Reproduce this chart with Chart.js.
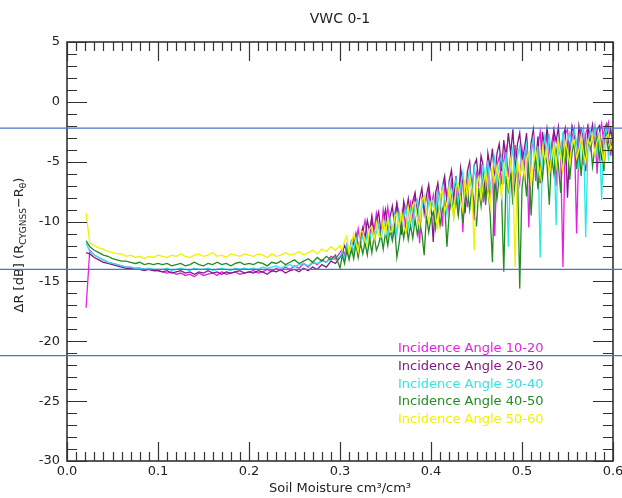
<!DOCTYPE html>
<html>
<head>
<meta charset="utf-8">
<script src="https://cdn.jsdelivr.net/npm/chart.js@4.4.0/dist/chart.umd.min.js"></script>
<style>
  body { margin: 0; background: #fff; }
  canvas { display: block; }
</style>
</head>
<body>
<canvas id="vwcChart" width="622" height="498"></canvas>
<script>
// Soil moisture values (cm3/cm3)
const soilMoisture = [
  0.021, 0.025, 0.03, 0.035, 0.04, 0.045, 0.05, 0.055, 0.06, 0.065, 0.07, 0.075, 0.08, 0.085, 0.09, 0.095, 0.1,
  0.105, 0.11, 0.115, 0.12, 0.125, 0.13, 0.135, 0.14, 0.145, 0.15, 0.155, 0.16, 0.165, 0.17, 0.175, 0.18, 0.185, 0.19, 0.195, 0.2,
  0.205, 0.21, 0.215, 0.22, 0.225, 0.23, 0.235, 0.24, 0.245, 0.25, 0.255, 0.26, 0.265, 0.27, 0.275, 0.28, 0.285, 0.29, 0.295, 0.3,
  0.3025, 0.305, 0.3075, 0.31, 0.3125, 0.315, 0.3175, 0.32, 0.3225, 0.325,
  0.3275, 0.33, 0.3325, 0.335, 0.3375, 0.34, 0.3425, 0.345, 0.3475, 0.35,
  0.3525, 0.355, 0.3575, 0.36, 0.3625, 0.365, 0.3675, 0.37, 0.3725, 0.375,
  0.3775, 0.38, 0.3825, 0.385, 0.3875, 0.39, 0.3925, 0.395, 0.3975, 0.4,
  0.4025, 0.405, 0.4075, 0.41, 0.4125, 0.415, 0.4175, 0.42, 0.4225, 0.425,
  0.4275, 0.43, 0.4325, 0.435, 0.4375, 0.44, 0.4425, 0.445, 0.4475, 0.45,
  0.4525, 0.455, 0.4575, 0.46, 0.4625, 0.465, 0.4675, 0.47, 0.4725, 0.475,
  0.4775, 0.48, 0.4825, 0.485, 0.4875, 0.49, 0.4925, 0.495, 0.4975, 0.5,
  0.5025, 0.505, 0.5075, 0.51, 0.5125, 0.515, 0.5175, 0.52, 0.5225, 0.525,
  0.5275, 0.53, 0.5325, 0.535, 0.5375, 0.54, 0.5425, 0.545, 0.5475, 0.55,
  0.5525, 0.555, 0.5575, 0.56, 0.5625, 0.565, 0.5675, 0.57, 0.5725, 0.575,
  0.5775, 0.58, 0.5825, 0.585, 0.5875, 0.59, 0.5925, 0.595, 0.5975, 0.6
];

// Delta R [dB] per incidence angle bin
const angle10to20 = [
  -17.2, -12.4, -12.8, -13.0, -13.2, -13.4, -13.5, -13.6, -13.7, -13.8, -13.8, -13.9, -13.9, -14.0, -14.0, -14.1, -14.1,
  -14.2, -14.3, -14.2, -14.4, -14.3, -14.5, -14.4, -14.6, -14.3, -14.5, -14.4, -14.3, -14.5, -14.2, -14.4, -14.3, -14.2, -14.4, -14.3, -14.2,
  -14.1, -14.3, -14.2, -14.0, -14.2, -13.9, -14.1, -13.8, -14.0, -13.7, -13.9, -13.5, -13.8, -13.4, -13.6, -13.2, -13.4, -12.9, -13.1, -12.6,
  -12.3, -12.8, -11.9, -12.4, -12.6, -11.3, -11.8, -10.6, -11.9, -10.9,
  -9.9, -11.2, -11.8, -9.6, -10.7, -9.3, -10.4, -11.3, -9.0, -10.2,
  -8.8, -10.3, -11.2, -9.4, -8.5, -10.1, -9.6, -8.7, -11.0, -9.2,
  -8.4, -9.9, -7.8, -9.0, -11.8, -8.1, -8.6, -9.7, -7.4, -8.9,
  -7.8, -9.6, -7.0, -8.4, -10.4, -6.8, -7.9, -9.2, -6.4, -8.3,
  -6.9, -9.5, -6.1, -10.9, -6.6, -8.8, -5.7, -7.4, -9.9, -6.0,
  -7.0, -5.2, -8.4, -6.1, -4.7, -8.1, -5.5, -11.2, -5.3, -4.6,
  -6.9, -4.9, -3.9, -6.3, -4.4, -8.3, -3.6, -5.4, -6.8, -3.9,
  -5.3, -3.2, -10.5, -4.4, -2.8, -6.6, -3.7, -2.5, -5.6, -4.0,
  -2.7, -5.9, -3.5, -2.4, -7.0, -3.1, -4.6, -13.8, -2.7, -2.3,
  -4.5, -2.9, -2.2, -11.0, -3.6, -2.1, -5.3, -2.7, -2.0, -4.0,
  -3.2, -2.1, -6.0, -2.6, -1.8, -3.6, -2.3, -1.7, -4.5, -2.8
];
const angle20to30 = [
  -12.6, -12.7, -13.0, -13.2, -13.4, -13.5, -13.6, -13.7, -13.8, -13.9, -13.9, -14.0, -14.0, -14.1, -14.0, -14.1, -14.1,
  -14.2, -14.1, -14.3, -14.2, -14.1, -14.3, -14.2, -14.4, -14.2, -14.3, -14.1, -14.3, -14.2, -14.4, -14.2, -14.3, -14.2, -14.1, -14.3, -14.2,
  -14.3, -14.1, -14.2, -14.4, -14.1, -14.2, -14.0, -14.3, -14.1, -14.0, -14.2, -13.9, -14.1, -13.8, -14.0, -13.6, -13.8, -13.3, -13.5, -13.0,
  -12.6, -12.0, -12.5, -12.9, -11.6, -11.9, -11.0, -12.1, -11.3, -10.5,
  -11.4, -9.9, -10.8, -9.6, -11.7, -9.9, -9.2, -10.9, -10.0, -9.0,
  -10.7, -9.6, -8.7, -10.4, -8.5, -9.5, -11.1, -8.3, -9.2, -8.1,
  -10.1, -8.3, -7.6, -9.5, -8.1, -7.2, -9.3, -7.8, -6.9, -8.6,
  -11.7, -7.6, -6.8, -9.0, -7.1, -6.2, -8.4, -6.6, -5.7, -7.8,
  -6.2, -8.6, -5.5, -6.8, -9.3, -5.8, -5.0, -7.4, -5.3, -4.8,
  -6.7, -4.5, -5.4, -8.6, -4.3, -5.5, -3.9, -6.6, -4.3, -3.5,
  -5.8, -3.2, -4.9, -2.6, -4.3, -2.3, -5.9, -3.5, -2.6, -4.9,
  -4.0, -2.6, -6.1, -3.4, -2.3, -5.2, -2.9, -6.8, -2.5, -3.9,
  -2.2, -3.6, -5.4, -2.4, -3.3, -2.1, -4.6, -2.9, -2.2, -8.0,
  -3.8, -2.0, -2.8, -5.0, -2.0, -3.2, -2.3, -5.8, -2.1, -2.8,
  -1.9, -3.9, -2.3, -2.0, -4.9, -2.6, -1.9, -3.3, -2.3, -3.4
];
const angle30to40 = [
  -11.8, -12.5, -12.8, -13.0, -13.2, -13.4, -13.5, -13.6, -13.7, -13.8, -13.8, -13.9, -13.9, -14.0, -13.9, -14.0, -14.0,
  -14.0, -13.9, -14.1, -14.0, -13.9, -14.0, -14.1, -13.9, -14.0, -14.0, -13.9, -14.1, -14.0, -13.9, -14.0, -14.1, -13.9, -14.0, -13.9, -14.0,
  -13.9, -14.0, -13.8, -13.9, -13.8, -13.7, -13.9, -13.7, -13.6, -13.8, -13.6, -13.5, -13.7, -13.4, -13.5, -13.3, -13.4, -13.1, -13.2, -12.9,
  -12.6, -13.1, -12.0, -12.8, -11.7, -12.5, -11.3, -12.4, -11.8, -11.2,
  -12.1, -11.0, -11.8, -10.6, -11.6, -10.9, -10.2, -11.5, -10.5, -9.9,
  -11.3, -9.8, -10.9, -9.5, -11.1, -9.2, -10.4, -9.6, -8.9, -10.5,
  -9.1, -10.3, -8.7, -8.2, -10.0, -8.9, -7.9, -9.7, -8.3, -9.0,
  -8.2, -9.6, -7.5, -8.8, -7.1, -8.3, -9.4, -6.8, -8.0, -7.2,
  -6.4, -8.5, -7.0, -5.9, -8.2, -6.9, -5.6, -7.9, -5.5, -6.7,
  -6.2, -7.8, -5.3, -6.5, -4.9, -7.4, -5.8, -4.6, -6.7, -5.2,
  -4.5, -6.9, -4.2, -12.1, -5.2, -3.9, -6.3, -4.6, -3.7, -5.6,
  -4.6, -3.5, -6.4, -4.0, -3.0, -5.6, -3.7, -13.0, -4.4, -2.9,
  -4.5, -2.7, -5.5, -3.3, -10.3, -3.0, -4.4, -2.5, -5.1, -3.3,
  -2.6, -4.2, -2.3, -3.4, -5.6, -2.8, -2.2, -11.3, -3.7, -2.5,
  -3.2, -2.1, -4.4, -2.5, -8.2, -2.8, -2.2, -4.7, -3.6, -4.4
];
const angle40to50 = [
  -11.6, -12.1, -12.4, -12.6, -12.8, -12.9, -13.1, -13.2, -13.3, -13.3, -13.4, -13.5, -13.4, -13.6, -13.5, -13.6, -13.5,
  -13.6, -13.5, -13.7, -13.6, -13.5, -13.7, -13.6, -13.4, -13.6, -13.7, -13.5, -13.6, -13.4, -13.6, -13.5, -13.7, -13.5, -13.4, -13.6, -13.5,
  -13.6, -13.4, -13.5, -13.7, -13.4, -13.5, -13.3, -13.6, -13.4, -13.2, -13.5, -13.3, -13.1, -13.4, -13.0, -13.3, -12.9, -13.2, -12.8, -13.9,
  -12.8, -13.5, -12.4, -13.2, -12.2, -13.1, -11.9, -13.0, -11.8, -12.7,
  -11.7, -12.8, -11.4, -12.6, -11.2, -12.4, -11.9, -11.0, -12.3, -10.9,
  -12.0, -10.7, -11.6, -10.5, -13.0, -11.8, -10.2, -11.4, -10.0, -11.5,
  -10.3, -11.4, -9.8, -11.1, -10.0, -11.0, -12.8, -9.5, -10.9, -9.7,
  -9.2, -10.6, -8.7, -10.3, -9.0, -8.4, -12.1, -9.3, -8.1, -9.6,
  -8.0, -9.5, -7.6, -10.1, -8.2, -7.4, -9.0, -7.1, -8.6, -10.4,
  -7.2, -8.7, -6.6, -8.3, -7.0, -9.4, -13.4, -6.5, -8.1, -6.3,
  -7.7, -14.2, -6.2, -7.4, -5.9, -8.6, -6.6, -5.5, -15.6, -7.2,
  -5.6, -7.9, -5.0, -9.5, -5.8, -4.6, -7.3, -5.2, -6.4, -4.3,
  -5.2, -8.6, -4.5, -6.0, -4.0, -5.3, -7.6, -3.9, -5.0, -3.6,
  -6.5, -4.2, -3.5, -5.6, -3.8, -6.2, -3.4, -4.8, -3.6, -3.0,
  -5.4, -3.9, -2.9, -4.7, -3.4, -5.8, -2.9, -4.0, -3.3, -4.6
];
const angle50to60 = [
  -9.3, -11.8, -12.0, -12.2, -12.3, -12.5, -12.6, -12.7, -12.7, -12.9, -12.8, -13.0, -12.9, -13.1, -12.9, -13.0, -12.8,
  -12.9, -13.0, -12.8, -12.9, -12.7, -12.9, -13.0, -12.8, -12.7, -12.9, -12.8, -12.6, -12.9, -12.8, -13.0, -12.7, -12.8, -12.9, -12.7, -12.8,
  -12.9, -12.7, -12.8, -13.0, -12.7, -12.9, -12.8, -12.6, -12.8, -12.7, -12.5, -12.8, -12.6, -12.4, -12.7, -12.3, -12.5, -12.1, -12.4, -12.0,
  -12.4, -11.6, -11.2, -12.6, -12.0, -11.0, -11.8, -12.5, -10.9, -10.8,
  -11.6, -12.0, -10.6, -10.4, -11.5, -10.1, -11.2, -11.3, -9.9, -11.0,
  -9.8, -10.9, -10.8, -9.6, -9.3, -10.5, -9.1, -10.4, -10.9, -8.8,
  -9.9, -8.6, -8.4, -9.7, -10.4, -8.2, -7.9, -9.2, -10.0, -8.3,
  -8.3, -9.6, -10.6, -7.8, -7.4, -9.1, -8.6, -7.1, -8.5, -9.7,
  -7.1, -6.8, -8.2, -9.1, -6.5, -7.9, -6.2, -7.3, -12.4, -6.9,
  -6.3, -8.1, -6.8, -5.8, -7.4, -8.7, -5.6, -6.6, -5.4, -6.5,
  -7.9, -5.2, -5.7, -7.1, -4.9, -6.4, -13.8, -4.8, -6.3, -5.0,
  -6.2, -4.7, -4.3, -7.0, -5.3, -4.0, -5.2, -6.3, -3.8, -4.8,
  -4.0, -6.1, -4.6, -3.6, -5.3, -3.4, -4.5, -6.0, -3.3, -4.1,
  -5.2, -3.4, -3.2, -4.7, -4.0, -2.9, -4.3, -5.1, -3.2, -3.6,
  -2.9, -4.3, -3.3, -2.8, -4.1, -5.0, -3.0, -2.7, -3.9, -3.6
];

const seriesLabels = ['Incidence Angle 10-20', 'Incidence Angle 20-30', 'Incidence Angle 30-40', 'Incidence Angle 40-50', 'Incidence Angle 50-60'];
const seriesValues = [angle10to20, angle20to30, angle30to40, angle40to50, angle50to60];
const seriesColors = ['#e81ee8', '#821982', '#2ee6e6', '#228b22', '#f2f200'];

// horizontal reference lines (dB)
const refLines = [-2.2, -14.0, -21.2];

const xTickLabels = ['0.0', '0.1', '0.2', '0.3', '0.4', '0.5', '0.6'];

const FONT = 'DejaVu Sans';

// inward ticks on all four sides + plot box
const boxTicks = {
  id: 'boxTicks',
  afterDraw(chart) {
    const { ctx, chartArea: a, scales: { x, y } } = chart;
    ctx.save();
    ctx.strokeStyle = '#333';
    ctx.lineWidth = 1.2;
    ctx.beginPath();
    for (let i = 0; i <= 60; i++) {
      const px = Math.round(x.getPixelForValue(i / 100)) + 0.5;
      const len = i % 10 === 0 ? 19 : 9;
      ctx.moveTo(px, a.bottom); ctx.lineTo(px, a.bottom - len);
      ctx.moveTo(px, a.top); ctx.lineTo(px, a.top + len);
    }
    for (let v = -30; v <= 5; v++) {
      const py = Math.round(y.getPixelForValue(v)) + 0.5;
      const len = v % 5 === 0 ? 20 : 10;
      ctx.moveTo(a.left, py); ctx.lineTo(a.left + len, py);
      ctx.moveTo(a.right, py); ctx.lineTo(a.right - len, py);
    }
    ctx.stroke();
    ctx.lineWidth = 1.6;
    ctx.strokeRect(a.left, a.top, a.right - a.left, a.bottom - a.top);
    ctx.restore();
  }
};

// titles, legend text and blue reference lines
const decorations = {
  id: 'decorations',
  afterDraw(chart) {
    const { ctx, chartArea: a, scales: { y } } = chart;
    const cx = (a.left + a.right) / 2;
    ctx.save();
    ctx.fillStyle = '#222';
    ctx.textAlign = 'center';
    ctx.textBaseline = 'middle';
    ctx.font = '14px ' + FONT;
    ctx.fillText('VWC 0-1', cx, 19);
    ctx.font = '13px ' + FONT;
    ctx.fillText('Soil Moisture cm³/cm³', cx, 489);

    // y title with subscripts, rotated
    ctx.translate(20, 245);
    ctx.rotate(-Math.PI / 2);
    const parts = [
      ['ΔR [dB] (R', 13, 0], ['CYGNSS', 9, 4], ['−R', 13, 0], ['θ', 9, 4], [')', 13, 0]
    ];
    let total = 0;
    parts.forEach(p => { ctx.font = p[1] + 'px ' + FONT; total += ctx.measureText(p[0]).width; });
    let tx = -total / 2;
    ctx.textAlign = 'left';
    parts.forEach(p => {
      ctx.font = p[1] + 'px ' + FONT;
      ctx.fillText(p[0], tx, p[2]);
      tx += ctx.measureText(p[0]).width;
    });
    ctx.restore();

    // legend
    ctx.save();
    ctx.font = '13px ' + FONT;
    ctx.textAlign = 'left';
    ctx.textBaseline = 'middle';
    seriesLabels.forEach((label, i) => {
      ctx.fillStyle = seriesColors[i];
      ctx.fillText(label, a.left + 331, a.top + 307 + i * 17.6);
    });

    // blue lines across the whole figure
    ctx.strokeStyle = '#4a74c9';
    ctx.lineWidth = 1.3;
    refLines.forEach(v => {
      const py = y.getPixelForValue(v);
      ctx.beginPath();
      ctx.moveTo(0, py);
      ctx.lineTo(chart.width, py);
      ctx.stroke();
    });
    ctx.restore();
  }
};

const datasets = seriesValues.map((vals, i) => ({
  label: seriesLabels[i],
  data: soilMoisture.map((x, j) => ({ x: x, y: vals[j] })),
  borderColor: seriesColors[i],
  borderWidth: 1.3,
  pointRadius: 0,
  tension: 0,
  order: seriesValues.length - i
}));

new Chart(document.getElementById('vwcChart').getContext('2d'), {
  type: 'line',
  data: { datasets },
  options: {
    responsive: false,
    animation: false,
    layout: { padding: { left: 0, right: 9, top: 42, bottom: 0 } },
    plugins: {
      legend: { display: false },
      title: { display: false },
      tooltip: { enabled: false }
    },
    scales: {
      x: {
        type: 'linear',
        min: 0,
        max: 0.6,
        grid: { display: false, drawTicks: false },
        border: { display: false },
        ticks: {
          stepSize: 0.1,
          autoSkip: false,
          maxRotation: 0,
          padding: 3,
          color: '#222',
          font: { family: FONT, size: 13 },
          callback: (v) => xTickLabels[Math.round(v * 10)]
        },
        afterFit: (s) => { s.height = 37; s.paddingLeft = 0; s.paddingRight = 0; }
      },
      y: {
        min: -30,
        max: 5,
        grid: { display: false, drawTicks: false },
        border: { display: false },
        ticks: {
          stepSize: 5,
          autoSkip: false,
          padding: 7,
          color: '#222',
          font: { family: FONT, size: 13 },
          callback: (v) => String(v)
        },
        afterFit: (s) => { s.width = 67; s.paddingTop = 0; s.paddingBottom = 0; }
      }
    }
  },
  plugins: [boxTicks, decorations]
});
</script>
</body>
</html>
